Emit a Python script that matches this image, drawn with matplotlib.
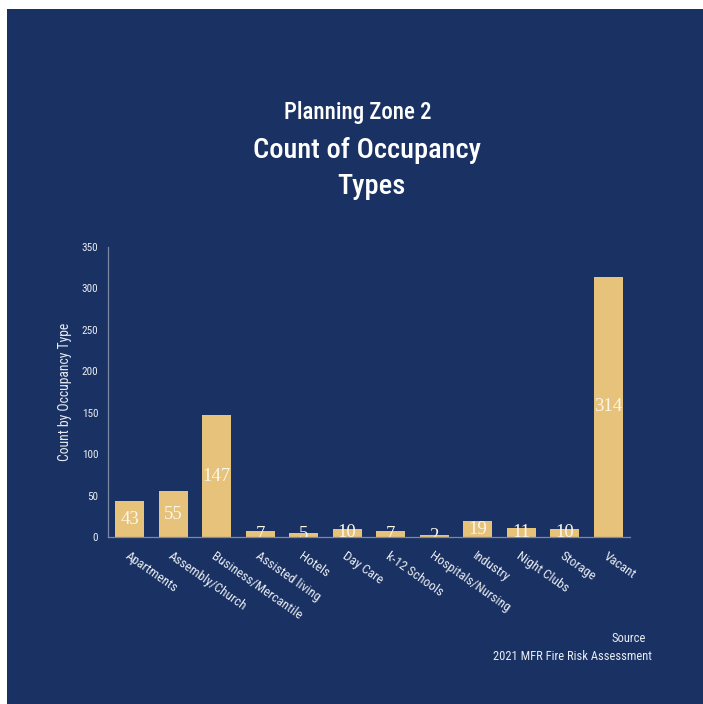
import matplotlib
matplotlib.use("Agg")
import matplotlib.pyplot as plt
from matplotlib import font_manager

categories = ["Apartments", "Assembly/Church", "Business/Mercantile", "Assisted living",
              "Hotels", "Day Care", "k-12 Schools", "Hospitals/Nursing", "Industry",
              "Night Clubs", "Storage", "Vacant"]
counts = [43, 55, 147, 7, 5, 10, 7, 2, 19, 11, 10, 314]
y_ticks = [0, 50, 100, 150, 200, 250, 300, 350]

NAVY = "#1a3263"
GOLD = "#e6c27a"
TEXT = "#e9ecf2"
AXIS = "#7d88a3"

installed = {f.name for f in font_manager.fontManager.ttflist}
narrow_names = [n for n in ["Roboto Condensed", "Liberation Sans Narrow",
                            "Open Sans Condensed", "DejaVu Sans"] if n in installed]
FONT = narrow_names + ["DejaVu Sans"]
STRETCH = "condensed"

fig = plt.figure(figsize=(7.03, 7.04), dpi=100)
fig.patch.set_facecolor("white")
# navy panel behind everything
fig.patches.append(plt.Rectangle((7 / 703, 0), 1 - 7 / 703, 1 - 9 / 704,
                                 transform=fig.transFigure, facecolor=NAVY,
                                 edgecolor="none", zorder=-10))

ax = fig.add_axes([108 / 703, 1 - 537 / 704, 522 / 703, 290 / 704])
ax.set_zorder(5)
ax.set_facecolor("none")
x = list(range(len(categories)))
bars = ax.bar(x, counts, width=0.66, color=GOLD, zorder=2)
ax.set_xlim(-0.5, len(categories) - 0.5)
ax.set_ylim(0, 350)

for xi, v in zip(x, counts):
    ax.text(xi, v / 2, str(v), ha="center", va="center", color="#fbf6ea",
            fontsize=13.5, family=["Liberation Serif", "DejaVu Serif"],
            clip_on=True, zorder=3)

for side in ["top", "right"]:
    ax.spines[side].set_visible(False)
for side in ["left", "bottom"]:
    ax.spines[side].set_color(AXIS)
    ax.spines[side].set_linewidth(0.9)

ax.set_yticks(y_ticks)
ax.set_yticklabels([str(t) for t in y_ticks], family=FONT, fontstretch=STRETCH,
                   fontsize=8, color=TEXT)
ax.tick_params(axis="y", length=0, pad=7)
ax.set_xticks(x)
ax.set_xticklabels(categories, rotation=-35, ha="left", va="top",
                   rotation_mode="anchor", family=FONT, fontstretch=STRETCH,
                   fontsize=9.5, color=TEXT)
ax.tick_params(axis="x", length=0, pad=9)

ax.set_ylabel("Count by Occupancy Type", family=FONT, fontstretch=STRETCH,
              fontsize=9.8, color=TEXT, labelpad=7)

fig.text(358 / 703, 1 - 112 / 704, "Planning Zone 2", ha="center", va="center",
         family=FONT, fontstretch=STRETCH, fontsize=16.5, color="white",
         fontweight="medium")
fig.text(367 / 703, 1 - 150 / 704, "Count of Occupancy", ha="center", va="center",
         family=FONT, fontstretch=STRETCH, fontsize=20.5, color="white",
         fontweight="medium")
fig.text(371 / 703, 1 - 187 / 704, "Types", ha="center", va="center",
         family=FONT, fontstretch=STRETCH, fontsize=20.5, color="white",
         fontweight="medium")

fig.text(646 / 703, 1 - 639 / 704, "Source", ha="right", va="center",
         family=FONT, fontstretch=STRETCH, fontsize=9, color=TEXT)
fig.text(652 / 703, 1 - 656 / 704, "2021 MFR Fire Risk Assessment", ha="right",
         va="center", family=FONT, fontstretch=STRETCH, fontsize=9, color=TEXT)

fig.savefig("out.png", dpi=100, facecolor=fig.get_facecolor())
